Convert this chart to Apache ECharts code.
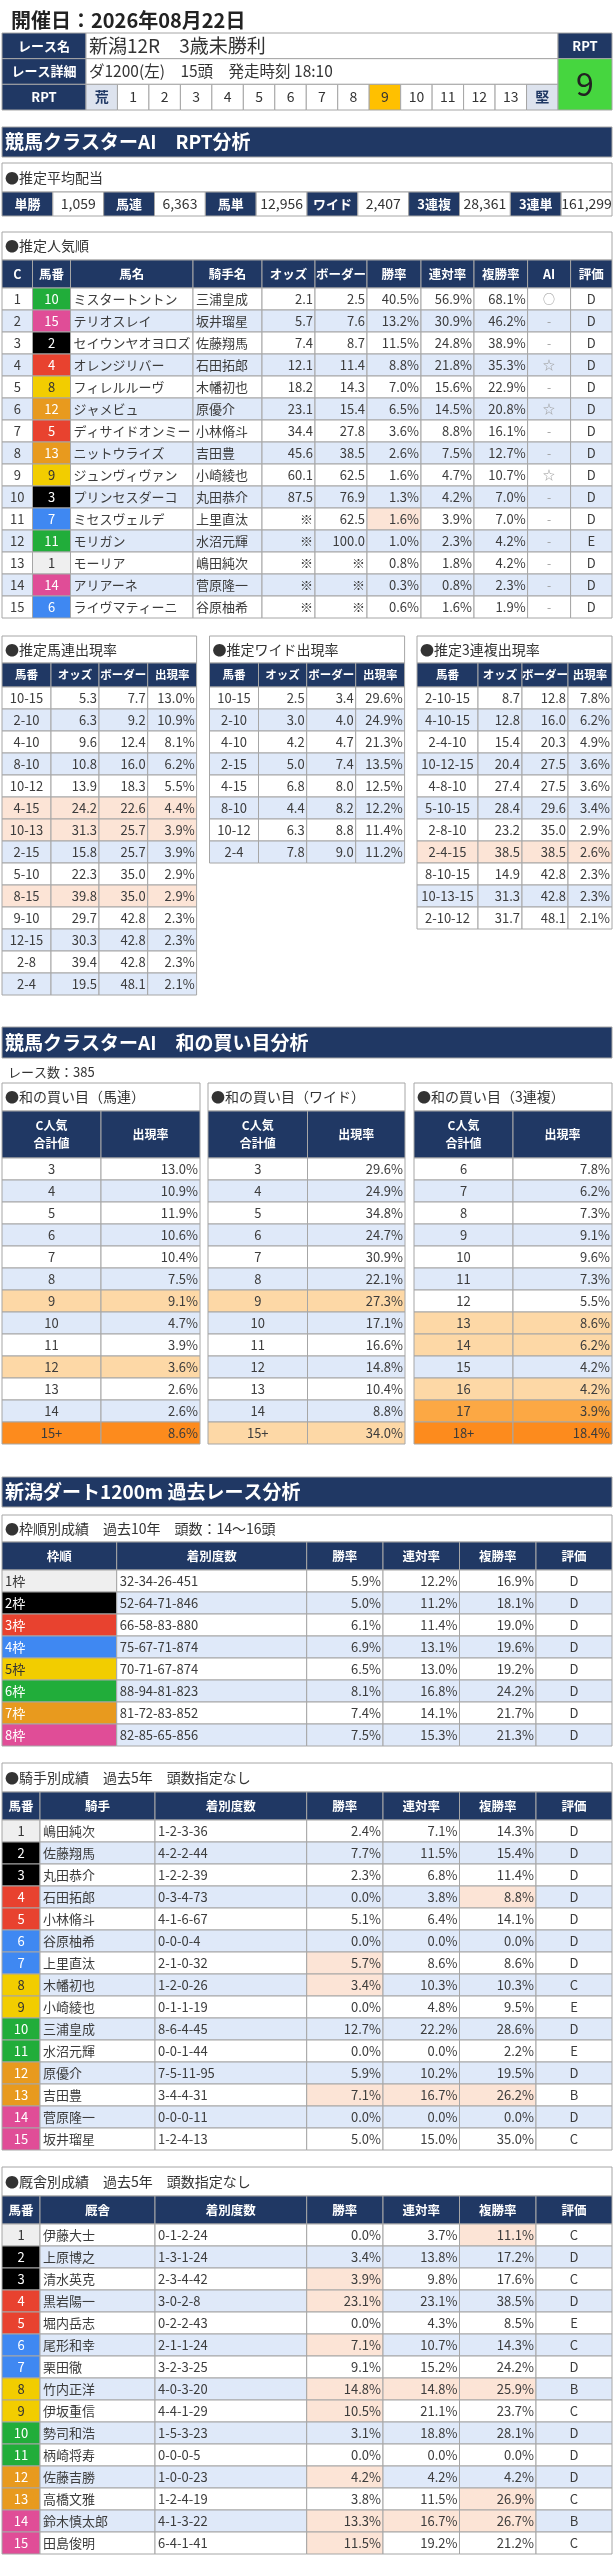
<!DOCTYPE html>
<html>
<head>
<meta charset="utf-8">
<script src="https://cdn.jsdelivr.net/npm/echarts@6/dist/echarts.min.js"></script>
<style>
html,body{margin:0;padding:0;background:#fff;}
#main{width:614px;height:2560px;}
</style>
</head>
<body>
<div id="main"></div>
<script>
// ---- レース情報
var raceDate = '開催日：2026年08月22日';
var raceName = '新潟12R　3歳未勝利';
var raceDetail = 'ダ1200(左)　15頭　発走時刻 18:10';
var rptScale = ['荒','1','2','3','4','5','6','7','8','9','10','11','12','13','堅'];
var rptValue = 9;

// ---- 推定平均配当
var payoutLabels = ['単勝','馬連','馬単','ワイド','3連複','3連単'];
var payoutValues = ['1,059','6,363','12,956','2,407','28,361','161,299'];

// ---- 推定人気順
var ninkiHorse = [10,15,2,4,8,12,5,13,9,3,7,11,1,14,6];
var ninkiName = ['ミスタートントン','テリオスレイ','セイウンヤオヨロズ','オレンジリバー','フィレルルーヴ','ジャメビュ','ディサイドオンミー','ニットウライズ','ジュンヴィヴァン','プリンセスダーコ','ミセスヴェルデ','モリガン','モーリア','アリアーネ','ライヴマティーニ'];
var ninkiJockey = ['三浦皇成','坂井瑠星','佐藤翔馬','石田拓郎','木幡初也','原優介','小林脩斗','吉田豊','小崎綾也','丸田恭介','上里直汰','水沼元輝','嶋田純次','菅原隆一','谷原柚希'];
var ninkiOdds = [2.1,5.7,7.4,12.1,18.2,23.1,34.4,45.6,60.1,87.5,null,null,null,null,null];
var ninkiBorder = [2.5,7.6,8.7,11.4,14.3,15.4,27.8,38.5,62.5,76.9,62.5,100.0,null,null,null];
var ninkiWin = [40.5,13.2,11.5,8.8,7.0,6.5,3.6,2.6,1.6,1.3,1.6,1.0,0.8,0.3,0.6];
var ninkiRentai = [56.9,30.9,24.8,21.8,15.6,14.5,8.8,7.5,4.7,4.2,3.9,2.3,1.8,0.8,1.6];
var ninkiFuku = [68.1,46.2,38.9,35.3,22.9,20.8,16.1,12.7,10.7,7.0,7.0,4.2,4.2,2.3,1.9];
var ninkiAI = ['○','-','-','☆','-','☆','-','-','☆','-','-','-','-','-','-'];
var ninkiGrade = ['D','D','D','D','D','D','D','D','D','D','D','E','D','D','D'];
var ninkiMark = [[10,6]];

// ---- 推定出現率
var umarenKumi = ['10-15','2-10','4-10','8-10','10-12','4-15','10-13','2-15','5-10','8-15','9-10','12-15','2-8','2-4'];
var umarenOdds = [5.3,6.3,9.6,10.8,13.9,24.2,31.3,15.8,22.3,39.8,29.7,30.3,39.4,19.5];
var umarenBorder = [7.7,9.2,12.4,16.0,18.3,22.6,25.7,25.7,35.0,35.0,42.8,42.8,42.8,48.1];
var umarenRate = [13.0,10.9,8.1,6.2,5.5,4.4,3.9,3.9,2.9,2.9,2.3,2.3,2.3,2.1];
var umarenMark = [5,6,9];

var wideKumi = ['10-15','2-10','4-10','2-15','4-15','8-10','10-12','2-4'];
var wideOdds = [2.5,3.0,4.2,5.0,6.8,4.4,6.3,7.8];
var wideBorder = [3.4,4.0,4.7,7.4,8.0,8.2,8.8,9.0];
var wideRate = [29.6,24.9,21.3,13.5,12.5,12.2,11.4,11.2];
var wideMark = [];

var trioKumi = ['2-10-15','4-10-15','2-4-10','10-12-15','4-8-10','5-10-15','2-8-10','2-4-15','8-10-15','10-13-15','2-10-12'];
var trioOdds = [8.7,12.8,15.4,20.4,27.4,28.4,23.2,38.5,14.9,31.3,31.7];
var trioBorder = [12.8,16.0,20.3,27.5,27.5,29.6,35.0,38.5,42.8,42.8,48.1];
var trioRate = [7.8,6.2,4.9,3.6,3.6,3.4,2.9,2.6,2.3,2.3,2.1];
var trioMark = [7];

// ---- 和の買い目
var raceCount = 385;
var sumUmarenKey = ['3','4','5','6','7','8','9','10','11','12','13','14','15+'];
var sumUmarenRate = [13.0,10.9,11.9,10.6,10.4,7.5,9.1,4.7,3.9,3.6,2.6,2.6,8.6];
var sumUmarenTier = [0,0,0,0,0,0,1,0,0,1,0,0,3];
var sumWideKey = ['3','4','5','6','7','8','9','10','11','12','13','14','15+'];
var sumWideRate = [29.6,24.9,34.8,24.7,30.9,22.1,27.3,17.1,16.6,14.8,10.4,8.8,34.0];
var sumWideTier = [0,0,0,0,0,0,1,0,0,0,0,0,1];
var sumTrioKey = ['6','7','8','9','10','11','12','13','14','15','16','17','18+'];
var sumTrioRate = [7.8,6.2,7.3,9.1,9.6,7.3,5.5,8.6,6.2,4.2,4.2,3.9,18.4];
var sumTrioTier = [0,0,0,0,0,0,0,1,1,0,1,2,3];

// ---- 枠順別成績
var wakuOfHorse = [1,2,2,3,3,4,4,5,5,6,6,7,7,8,8];
var wakuStats = ['32-34-26-451','52-64-71-846','66-58-83-880','75-67-71-874','70-71-67-874','88-94-81-823','81-72-83-852','82-85-65-856'];
var wakuWin = [5.9,5.0,6.1,6.9,6.5,8.1,7.4,7.5];
var wakuRentai = [12.2,11.2,11.4,13.1,13.0,16.8,14.1,15.3];
var wakuFuku = [16.9,18.1,19.0,19.6,19.2,24.2,21.7,21.3];
var wakuGrade = ['D','D','D','D','D','D','D','D'];

// ---- 騎手別成績
var jockeyName = ['嶋田純次','佐藤翔馬','丸田恭介','石田拓郎','小林脩斗','谷原柚希','上里直汰','木幡初也','小崎綾也','三浦皇成','水沼元輝','原優介','吉田豊','菅原隆一','坂井瑠星'];
var jockeyStats = ['1-2-3-36','4-2-2-44','1-2-2-39','0-3-4-73','4-1-6-67','0-0-0-4','2-1-0-32','1-2-0-26','0-1-1-19','8-6-4-45','0-0-1-44','7-5-11-95','3-4-4-31','0-0-0-11','1-2-4-13'];
var jockeyWin = [2.4,7.7,2.3,0.0,5.1,0.0,5.7,3.4,0.0,12.7,0.0,5.9,7.1,0.0,5.0];
var jockeyRentai = [7.1,11.5,6.8,3.8,6.4,0.0,8.6,10.3,4.8,22.2,0.0,10.2,16.7,0.0,15.0];
var jockeyFuku = [14.3,15.4,11.4,8.8,14.1,0.0,8.6,10.3,9.5,28.6,2.2,19.5,26.2,0.0,35.0];
var jockeyGrade = ['D','D','D','D','D','D','D','C','E','D','E','D','B','D','C'];
var jockeyMark = [[3,5],[6,3],[7,3],[12,3],[12,4],[12,5]];

// ---- 厩舎別成績
var stableName = ['伊藤大士','上原博之','清水英克','黒岩陽一','堀内岳志','尾形和幸','栗田徹','竹内正洋','伊坂重信','勢司和浩','柄崎将寿','佐藤吉勝','高橋文雅','鈴木慎太郎','田島俊明'];
var stableStats = ['0-1-2-24','1-3-1-24','2-3-4-42','3-0-2-8','0-2-2-43','2-1-1-24','3-2-3-25','4-0-3-20','4-4-1-29','1-5-3-23','0-0-0-5','1-0-0-23','1-2-4-19','4-1-3-22','6-4-1-41'];
var stableWin = [0.0,3.4,3.9,23.1,0.0,7.1,9.1,14.8,10.5,3.1,0.0,4.2,3.8,13.3,11.5];
var stableRentai = [3.7,13.8,9.8,23.1,4.3,10.7,15.2,14.8,21.1,18.8,0.0,4.2,11.5,16.7,19.2];
var stableFuku = [11.1,17.2,17.6,38.5,8.5,14.3,24.2,25.9,23.7,28.1,0.0,4.2,26.9,26.7,21.2];
var stableGrade = ['C','D','C','D','E','C','D','B','C','D','D','D','C','B','C'];
var stableMark = [[0,5],[2,3],[3,3],[5,3],[7,3],[7,4],[7,5],[8,3],[11,3],[12,5],[13,3],[13,4],[13,5],[14,3]];

// 見た目
var FONT = '"Noto Sans CJK JP", "Noto Sans", sans-serif';
var NAVY = '#203864', LINE = '#a6a6a6', ALT = '#dfe9f9', PINK = '#fce4d6', TXT = '#3c3c3c';
var WAKU_FILL = ['#efefef','#000000','#e8422f','#3f88f2','#f2cd00','#21ad3a','#e89a1e','#e04d97'];
var WAKU_TEXT = ['#333','#fff','#fff','#fff','#333','#fff','#fff','#fff'];
var TIER = [null,'#fdd8a6','#fca844','#fd8b1d'];

var grids = [], xAxes = [], yAxes = [], series = [];

function f1(v) { return v == null ? '※' : v.toFixed(1); }
function pc(v) { return v.toFixed(1) + '%'; }
function hasMark(list, r, c) {
    for (var i = 0; i < list.length; i++) {
        if (list[i][0] == r && list[i][1] == c) return true;
    }
    return false;
}

// 表のブロック（1グリッド＋カスタムシリーズ）
function addBlock(b) {
    var gi = grids.length;
    var edges = [0];
    b.colW.forEach(function (v) { edges.push(edges[edges.length - 1] + v); });
    var w = edges[edges.length - 1];
    grids.push({left: b.left, top: b.top, width: w, height: b.rowH * b.rows.length});
    xAxes.push({gridIndex: gi, type: 'value', min: 0, max: w, show: false});
    yAxes.push({gridIndex: gi, type: 'category', inverse: true, show: false,
        data: b.rows.map(function (r, i) { return String(i); })});
    series.push({
        type: 'custom', xAxisIndex: gi, yAxisIndex: gi, silent: true, clip: false,
        data: b.rows.map(function (r, i) { return [0, i]; }),
        encode: {x: 0, y: 1},
        renderItem: function (params, api) {
            var r = api.value(1);
            var h = api.size([0, 1])[1];
            var y = api.coord([0, r])[1] - h / 2;
            var kids = [];
            b.rows[r].forEach(function (txt, c) {
                var x0 = api.coord([edges[c], r])[0], x1 = api.coord([edges[c + 1], r])[0];
                var s = b.cell(r, c, txt) || {};
                kids.push({type: 'rect', shape: {x: x0, y: y, width: x1 - x0, height: h},
                    style: {fill: s.fill || '#fff', stroke: LINE, lineWidth: 1}});
                var tx = s.align === 'left' ? x0 + 3 : s.align === 'right' ? x1 - 2 : (x0 + x1) / 2;
                kids.push({type: 'text', x: tx, y: y + h / 2, z2: 10,
                    style: {text: String(txt), align: s.align || 'center', verticalAlign: 'middle',
                        fill: s.color || TXT, fontSize: s.size || 13, fontWeight: s.weight || 'normal',
                        fontFamily: FONT, lineHeight: s.lineHeight || undefined}});
            });
            return {type: 'group', children: kids};
        }
    });
}

function navyCell(size) {
    return function () { return {fill: NAVY, color: '#fff', weight: 'bold', size: size || 13}; };
}
function band(top, h, text) {
    addBlock({left: 2, top: top, colW: [610], rowH: h, rows: [[text]],
        cell: function () { return {fill: NAVY, color: '#fff', weight: 'bold', size: 19, align: 'left'}; }});
}
function caption(left, top, w, h, text) {
    addBlock({left: left, top: top, colW: [w], rowH: h, rows: [[text]],
        cell: function () { return {align: 'left', size: 14, color: '#333'}; }});
}
function rowFill(r) { return r % 2 ? ALT : '#fff'; }

// ---- ヘッダー
addBlock({left: 2, top: 33, colW: [84], rowH: 25.67, rows: [['レース名'], ['レース詳細'], ['RPT']], cell: navyCell(13)});
addBlock({left: 86, top: 33, colW: [472], rowH: 25.67, rows: [[raceName], [raceDetail]],
    cell: function (r) { return {align: 'left', size: r === 0 ? 19 : 15.5, color: '#333'}; }});
addBlock({left: 86, top: 84.33, colW: rptScale.map(function () { return 472 / 15; }), rowH: 25.67, rows: [rptScale],
    cell: function (r, c, t) {
        if (c === 0 || c === rptScale.length - 1) return {fill: '#dde3ee', color: NAVY, weight: 'bold', size: 14};
        if (t === String(rptValue)) return {fill: '#ffc000', color: '#333', size: 14};
        return {size: 14, color: '#333'};
    }});
addBlock({left: 558, top: 33, colW: [54], rowH: 25.67, rows: [['RPT']], cell: navyCell(13)});
addBlock({left: 558, top: 58.67, colW: [54], rowH: 51.33, rows: [[String(rptValue)]],
    cell: function () { return {fill: '#46d63f', color: '#222', size: 32}; }});

// ---- RPT分析
band(127, 30, '競馬クラスターAI　RPT分析');
caption(2, 163, 610, 29, '●推定平均配当');
var payoutRow = [];
payoutLabels.forEach(function (l, i) { payoutRow.push(l, payoutValues[i]); });
addBlock({left: 2, top: 192, colW: payoutRow.map(function () { return 610 / 12; }), rowH: 24, rows: [payoutRow],
    cell: function (r, c) {
        return c % 2 === 0 ? {fill: NAVY, color: '#fff', weight: 'bold', size: 13} : {size: 14, color: '#333'};
    }});

// ---- 推定人気順
var ninkiCols = ['C','馬番','馬名','騎手名','オッズ','ボーダー','勝率','連対率','複勝率','AI','評価'];
var ninkiW = [30.5, 38, 122.5, 69, 53, 52, 54, 53, 53.6, 43, 41.4];
var ninkiRows = ninkiHorse.map(function (h, i) {
    return [i + 1, h, ninkiName[i], ninkiJockey[i], f1(ninkiOdds[i]), f1(ninkiBorder[i]),
        pc(ninkiWin[i]), pc(ninkiRentai[i]), pc(ninkiFuku[i]), ninkiAI[i], ninkiGrade[i]];
});
caption(2, 232, 610, 28, '●推定人気順');
addBlock({left: 2, top: 260, colW: ninkiW, rowH: 28, rows: [ninkiCols], cell: navyCell(12.5)});
addBlock({left: 2, top: 288, colW: ninkiW, rowH: 22, rows: ninkiRows,
    cell: function (r, c) {
        var fill = hasMark(ninkiMark, r, c) ? PINK : rowFill(r);
        if (c === 1) {
            var wk = wakuOfHorse[ninkiHorse[r] - 1] - 1;
            return {fill: WAKU_FILL[wk], color: WAKU_TEXT[wk], size: 13};
        }
        if (c === 2 || c === 3) return {fill: fill, align: 'left'};
        if (c >= 4 && c <= 8) return {fill: fill, align: 'right'};
        if (c === 9) return {fill: fill, color: '#999', size: 12};
        return {fill: fill};
    }});

// ---- 推定出現率の小表
var smallCols = ['馬番','オッズ','ボーダー','出現率'];
function smallTable(left, colW, title, kumi, odds, border, rate, mark) {
    var w = colW.reduce(function (a, v) { return a + v; }, 0);
    caption(left, 636, w, 27, title);
    addBlock({left: left, top: 663, colW: colW, rowH: 24, rows: [smallCols], cell: navyCell(11.5)});
    addBlock({left: left, top: 687, colW: colW, rowH: 22,
        rows: kumi.map(function (k, i) { return [k, f1(odds[i]), f1(border[i]), pc(rate[i])]; }),
        cell: function (r, c) {
            var fill = mark.indexOf(r) >= 0 ? PINK : rowFill(r);
            return {fill: fill, align: c === 0 ? 'center' : 'right'};
        }});
}
smallTable(2, [49, 48, 48.7, 48.9], '●推定馬連出現率', umarenKumi, umarenOdds, umarenBorder, umarenRate, umarenMark);
smallTable(209.5, [49, 48.2, 49, 48.9], '●推定ワイド出現率', wideKumi, wideOdds, wideBorder, wideRate, wideMark);
smallTable(417, [61, 44, 46, 44], '●推定3連複出現率', trioKumi, trioOdds, trioBorder, trioRate, trioMark);

// ---- 和の買い目分析
band(1027, 31, '競馬クラスターAI　和の買い目分析');
function sumTable(left, colW, title, keys, rate, tier) {
    var w = colW[0] + colW[1];
    caption(left, 1083, w, 28, title);
    addBlock({left: left, top: 1111, colW: colW, rowH: 47, rows: [['C人気\n合計値', '出現率']],
        cell: function () { return {fill: NAVY, color: '#fff', weight: 'bold', size: 12, lineHeight: 18}; }});
    addBlock({left: left, top: 1158, colW: colW, rowH: 22,
        rows: keys.map(function (k, i) { return [k, pc(rate[i])]; }),
        cell: function (r, c) {
            var fill = tier[r] ? TIER[tier[r]] : rowFill(r);
            return {fill: fill, align: c === 0 ? 'center' : 'right'};
        }});
}
sumTable(2, [99, 99], '●和の買い目（馬連）', sumUmarenKey, sumUmarenRate, sumUmarenTier);
sumTable(208, [99.5, 97.5], '●和の買い目（ワイド）', sumWideKey, sumWideRate, sumWideTier);
sumTable(414, [99, 99], '●和の買い目（3連複）', sumTrioKey, sumTrioRate, sumTrioTier);

// ---- 過去レース分析
band(1477, 30, '新潟ダート1200m 過去レース分析');
var wakuW = [114.7, 190, 76.3, 76.5, 76.5, 76];
caption(2, 1515, 610, 27, '●枠順別成績　過去10年　頭数：14～16頭');
addBlock({left: 2, top: 1542, colW: wakuW, rowH: 28, rows: [['枠順','着別度数','勝率','連対率','複勝率','評価']], cell: navyCell(12.5)});
addBlock({left: 2, top: 1570, colW: wakuW, rowH: 22,
    rows: wakuStats.map(function (s, i) { return [(i + 1) + '枠', s, pc(wakuWin[i]), pc(wakuRentai[i]), pc(wakuFuku[i]), wakuGrade[i]]; }),
    cell: function (r, c) {
        if (c === 0) return {fill: WAKU_FILL[r], color: WAKU_TEXT[r], align: 'left'};
        if (c === 1) return {fill: rowFill(r), align: 'left'};
        if (c === 5) return {fill: rowFill(r)};
        return {fill: rowFill(r), align: 'right'};
    }});

var personW = [38, 115, 151.7, 76.3, 76.5, 76.5, 76];
function personTable(top, title, head, names, stats, win, ren, fuku, grade, mark) {
    caption(2, top, 610, 29, title);
    addBlock({left: 2, top: top + 29, colW: personW, rowH: 28, rows: [['馬番', head, '着別度数', '勝率', '連対率', '複勝率', '評価']], cell: navyCell(12.5)});
    addBlock({left: 2, top: top + 57, colW: personW, rowH: 22,
        rows: names.map(function (n, i) { return [i + 1, n, stats[i], pc(win[i]), pc(ren[i]), pc(fuku[i]), grade[i]]; }),
        cell: function (r, c) {
            var fill = hasMark(mark, r, c) ? PINK : rowFill(r);
            if (c === 0) {
                var wk = wakuOfHorse[r] - 1;
                return {fill: WAKU_FILL[wk], color: WAKU_TEXT[wk]};
            }
            if (c === 1 || c === 2) return {fill: fill, align: 'left'};
            if (c === 6) return {fill: fill};
            return {fill: fill, align: 'right'};
        }});
}
personTable(1763, '●騎手別成績　過去5年　頭数指定なし', '騎手', jockeyName, jockeyStats, jockeyWin, jockeyRentai, jockeyFuku, jockeyGrade, jockeyMark);
personTable(2167, '●厩舎別成績　過去5年　頭数指定なし', '厩舎', stableName, stableStats, stableWin, stableRentai, stableFuku, stableGrade, stableMark);

var chart = echarts.init(document.getElementById('main'));
chart.setOption({
    animation: false,
    title: [
        {text: raceDate, left: 6, top: 5, textStyle: {fontSize: 20, fontWeight: 'bold', color: '#222', fontFamily: FONT}},
        {text: 'レース数：' + raceCount, left: 3, top: 1061, textStyle: {fontSize: 13, fontWeight: 'normal', color: '#333', fontFamily: FONT}}
    ],
    grid: grids,
    xAxis: xAxes,
    yAxis: yAxes,
    series: series
});
</script>
</body>
</html>
